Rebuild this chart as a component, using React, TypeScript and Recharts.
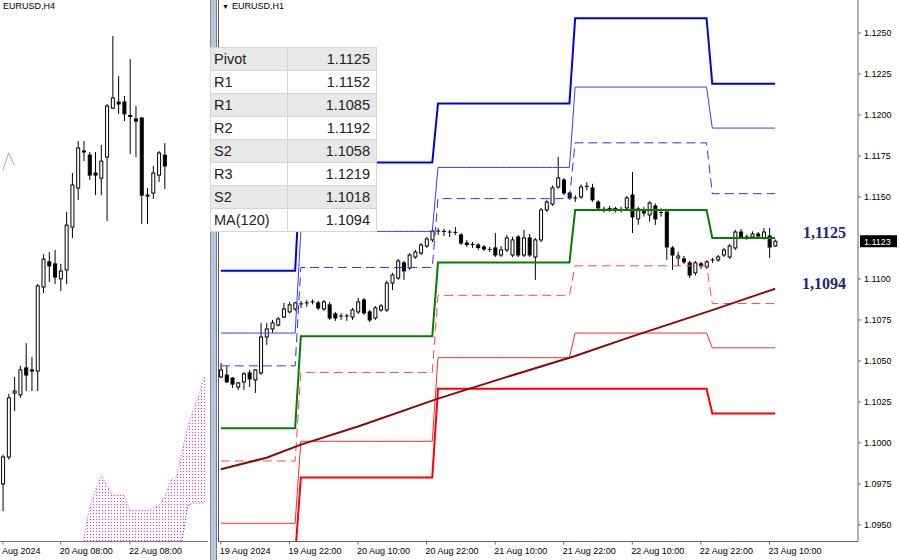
import React from "react";
import { ComposedChart, Line, Bar, Area, XAxis, YAxis, ReferenceLine } from "recharts";

type OHLC = [number, number, number, number];

// EURUSD H1: open, high, low, close, one candle per hour from 19 Aug 10:00 to 23 Aug 11:00
const h1Candles: OHLC[] = [
  [1.10402, 1.10488, 1.10396, 1.10445], [1.10414, 1.10469, 1.10366, 1.10372], [1.10396, 1.10402, 1.10335, 1.10359],
  [1.10341, 1.10372, 1.10323, 1.10366], [1.10372, 1.10433, 1.10323, 1.10421], [1.10427, 1.10445, 1.10341, 1.1039],
  [1.10384, 1.10451, 1.10305, 1.10445], [1.10427, 1.10732, 1.10415, 1.10646], [1.10646, 1.10732, 1.10597, 1.10695],
  [1.10695, 1.1075, 1.10671, 1.10732], [1.10719, 1.10768, 1.1071, 1.10756], [1.10768, 1.10854, 1.1076, 1.10817],
  [1.10799, 1.1086, 1.1079, 1.10842], [1.10817, 1.1086, 1.10805, 1.10854], [1.10848, 1.10866, 1.10823, 1.10842],
  [1.1085, 1.10872, 1.1083, 1.10854], [1.10856, 1.10875, 1.10845, 1.1086], [1.10854, 1.10866, 1.10811, 1.10823],
  [1.10817, 1.10872, 1.10805, 1.1086], [1.10842, 1.1086, 1.1075, 1.10762], [1.10787, 1.10799, 1.10744, 1.10762],
  [1.10768, 1.1079, 1.1075, 1.10774], [1.10774, 1.10787, 1.10744, 1.10768], [1.10768, 1.10823, 1.1075, 1.10811],
  [1.10799, 1.10884, 1.10787, 1.1086], [1.10872, 1.10884, 1.1078, 1.10793], [1.10799, 1.10811, 1.10738, 1.1075],
  [1.10762, 1.10835, 1.1075, 1.10823], [1.10811, 1.10848, 1.10799, 1.10835], [1.10811, 1.1099, 1.10799, 1.10975],
  [1.10975, 1.11037, 1.10932, 1.11024], [1.11006, 1.11122, 1.10994, 1.1111], [1.11098, 1.1111, 1.10994, 1.11049],
  [1.11067, 1.11158, 1.11055, 1.11146], [1.11134, 1.11177, 1.11122, 1.11164], [1.11158, 1.11219, 1.11146, 1.11207],
  [1.11201, 1.11256, 1.11189, 1.11244], [1.11238, 1.11311, 1.11225, 1.11292], [1.11292, 1.11311, 1.11268, 1.11286],
  [1.11286, 1.11305, 1.11262, 1.1129], [1.11286, 1.11299, 1.11256, 1.1128], [1.1128, 1.11317, 1.11268, 1.11284],
  [1.11268, 1.1128, 1.11207, 1.11219], [1.11219, 1.11238, 1.11195, 1.1121], [1.1121, 1.11225, 1.11189, 1.11207],
  [1.11207, 1.11219, 1.11177, 1.11192], [1.11195, 1.11207, 1.1117, 1.11183], [1.1118, 1.11195, 1.11164, 1.11177],
  [1.11189, 1.1128, 1.11134, 1.11146], [1.11146, 1.112, 1.11134, 1.11177], [1.11177, 1.11268, 1.11164, 1.1125],
  [1.11146, 1.11256, 1.11134, 1.11238], [1.11256, 1.11268, 1.11134, 1.11146], [1.11146, 1.11299, 1.11134, 1.1125],
  [1.1125, 1.11274, 1.11134, 1.11146], [1.11134, 1.1125, 1.10994, 1.11238], [1.11238, 1.11433, 1.11225, 1.11421],
  [1.11421, 1.11482, 1.11408, 1.11469], [1.11457, 1.1157, 1.11445, 1.11555], [1.11561, 1.11744, 1.11549, 1.11616],
  [1.11603, 1.11616, 1.11512, 1.11524], [1.11524, 1.1153, 1.11482, 1.11494], [1.11494, 1.1151, 1.1147, 1.1149],
  [1.115, 1.11576, 1.11488, 1.11561], [1.11561, 1.1159, 1.1154, 1.11565], [1.11555, 1.1158, 1.1147, 1.11482],
  [1.11469, 1.11482, 1.11421, 1.11433], [1.11425, 1.1144, 1.11405, 1.11421], [1.11421, 1.11445, 1.1141, 1.1143],
  [1.1143, 1.1144, 1.11405, 1.11421], [1.11421, 1.1144, 1.11405, 1.11418], [1.11433, 1.11506, 1.11421, 1.11494],
  [1.11512, 1.11652, 1.1128, 1.11378], [1.11366, 1.1144, 1.1133, 1.11427], [1.11421, 1.1144, 1.1138, 1.11402],
  [1.1139, 1.11475, 1.1135, 1.11463], [1.11445, 1.1146, 1.1133, 1.11366], [1.114, 1.1143, 1.1138, 1.11405],
  [1.11408, 1.1142, 1.11116, 1.11195], [1.11189, 1.11201, 1.11055, 1.11146], [1.11128, 1.11165, 1.1108, 1.1114],
  [1.11122, 1.1114, 1.1109, 1.11104], [1.11098, 1.1111, 1.11006, 1.11024], [1.11037, 1.1111, 1.1102, 1.11098],
  [1.11092, 1.11104, 1.1106, 1.1108], [1.11073, 1.11116, 1.1106, 1.11104], [1.1111, 1.11128, 1.11098, 1.11116],
  [1.11116, 1.11146, 1.11104, 1.11134], [1.11146, 1.1119, 1.11134, 1.11177], [1.11134, 1.11213, 1.11122, 1.11201],
  [1.11189, 1.11299, 1.11177, 1.11286], [1.11286, 1.11305, 1.11244, 1.11256], [1.11256, 1.1127, 1.11238, 1.1125],
  [1.11256, 1.1129, 1.11244, 1.11274], [1.11274, 1.11286, 1.1125, 1.11262], [1.1125, 1.11311, 1.1124, 1.11286],
  [1.11262, 1.11311, 1.11128, 1.11195], [1.11201, 1.1124, 1.11195, 1.1123],
];

// bar index where each trading day starts (19..23 Aug)
const dayStartBar = [0, 14, 38, 62, 86];

// daily pivot levels
const levelR3 = [1.1105, 1.1171, 1.1207, 1.1259, 1.1219];
const levelR2 = [1.1067, 1.1129, 1.1168, 1.1217, 1.1192];
const levelR1 = [1.1047, 1.1107, 1.1149, 1.1183, 1.1152];
const levelP = [1.1009, 1.1065, 1.111, 1.1142, 1.1125];
const levelS1 = [1.0989, 1.1043, 1.109, 1.1108, 1.1085];
const levelS2 = [1.0951, 1.1001, 1.1052, 1.1067, 1.1058];
const levelS3 = [1.0931, 1.0979, 1.1033, 1.1033, 1.1018];

// MA(120) read at a few bars
const maBars = [0, 8, 14, 24, 38, 48, 62, 72, 86, 97];
const maValues = [1.0984, 1.0991, 1.0999, 1.101, 1.1027, 1.1038, 1.1053, 1.1065, 1.1081, 1.1094];

const h1Slots = 112;
const h1TickBars = [0, 12, 24, 36, 48, 60, 72, 84, 96];
const h1TickLabels = ["19 Aug 2024", "19 Aug 22:00", "20 Aug 10:00", "20 Aug 22:00", "21 Aug 10:00", "21 Aug 22:00", "22 Aug 10:00", "22 Aug 22:00", "23 Aug 10:00"];
const priceTicks = [1.095, 1.0975, 1.1, 1.1025, 1.105, 1.1075, 1.11, 1.115, 1.1175, 1.12, 1.1225, 1.125];

// EURUSD H4 candles (left pane)
const h4Candles: OHLC[] = [
  [1.09975, 1.1009, 1.09868, 1.10081], [1.10081, 1.1033, 1.1007, 1.10314], [1.10333, 1.10396, 1.10262, 1.10341],
  [1.10326, 1.1044, 1.10314, 1.10424], [1.10432, 1.1053, 1.10341, 1.10404], [1.1042, 1.10475, 1.10341, 1.10424],
  [1.1042, 1.10763, 1.10341, 1.10755], [1.10751, 1.1088, 1.10727, 1.10861], [1.1085, 1.10889, 1.10771, 1.10834],
  [1.10842, 1.10897, 1.10763, 1.1079], [1.10783, 1.10842, 1.10735, 1.10814], [1.10818, 1.11047, 1.10763, 1.10995],
  [1.10987, 1.112, 1.10944, 1.11153], [1.11141, 1.11326, 1.11094, 1.11299], [1.11283, 1.11326, 1.11247, 1.11287],
  [1.11271, 1.11283, 1.11172, 1.11192], [1.112, 1.11283, 1.11113, 1.11192], [1.1118, 1.11311, 1.11113, 1.11247],
  [1.11263, 1.11472, 1.11011, 1.11464], [1.11456, 1.1174, 1.11452, 1.11496], [1.1148, 1.11582, 1.11433, 1.11472],
  [1.1148, 1.11504, 1.11405, 1.11433], [1.11427, 1.11649, 1.11275, 1.11423], [1.11413, 1.11464, 1.11263, 1.11405],
  [1.11417, 1.1142, 1.10999, 1.11113], [1.11109, 1.11141, 1.10999, 1.11113], [1.11121, 1.11228, 1.11098, 1.112],
  [1.11192, 1.11287, 1.11165, 1.11279], [1.11271, 1.11318, 1.11137, 1.11228],
];
const h4Slots = 36;
const h4TickBars = [0, 10, 22];
const h4TickLabels = ["Aug 2024", "20 Aug 08:00", "22 Aug 08:00"];
// ichimoku cloud edges from slot 14 on
const cloudStart = 14;
const cloudUpper = [1.0976, 1.0988, 1.0995, 1.1001, 1.0997, 1.0993, 1.0993, 1.0993, 1.0987, 1.0987, 1.0987, 1.0987, 1.0988, 1.0989, 1.0992, 1.0999, 1.1, 1.101, 1.102, 1.1027, 1.1033, 1.104];
const cloudLower = [1.0962, 1.0962, 1.0962, 1.0962, 1.0962, 1.0962, 1.0962, 1.0962, 1.0962, 1.0962, 1.0962, 1.0962, 1.0962, 1.0962, 1.0962, 1.0962, 1.0962, 1.0975, 1.0989, 1.099, 1.099, 1.099];
const h4Zig = [1.1121, 1.1128, 1.1123];

const tableLabels = ["Pivot", "R1", "R1", "R2", "S2", "R3", "S2", "MA(120)"];
const tableValues = ["1.1125", "1.1152", "1.1085", "1.1192", "1.1058", "1.1219", "1.1018", "1.1094"];

const FONT = '"Liberation Sans", Arial, sans-serif';

const h1Data = Array.from({ length: h1Slots }, (_, i) => {
  const row: any = { i };
  const k = h1Candles[i];
  if (k) {
    let day = 0;
    dayStartBar.forEach((b, d) => { if (i >= b) day = d; });
    row.o = k[0]; row.h = k[1]; row.l = k[2]; row.c = k[3];
    row.range = [k[2], k[1]];
    row.r3 = levelR3[day]; row.r2 = levelR2[day]; row.r1 = levelR1[day];
    row.p = levelP[day];
    row.s1 = levelS1[day]; row.s2 = levelS2[day]; row.s3 = levelS3[day];
  }
  const m = maBars.indexOf(i);
  if (m >= 0) row.ma = maValues[m];
  return row;
});

const h4Data = Array.from({ length: h4Slots }, (_, i) => {
  const row: any = { i };
  const k = h4Candles[i];
  if (k) {
    row.o = k[0]; row.h = k[1]; row.l = k[2]; row.c = k[3];
    row.range = [k[2], k[1]];
  }
  const j = i - cloudStart;
  if (j >= 0 && j < cloudUpper.length) {
    row.spanA = cloudUpper[j];
    row.spanB = cloudLower[j];
    row.cloud = [cloudLower[j], cloudUpper[j]];
  }
  if (i < h4Zig.length) row.zig = h4Zig[i];
  return row;
});

const lastClose = h1Candles[h1Candles.length - 1][3];
const tickMap = (bars: number[], labels: string[]) => {
  const m: Record<number, string> = {};
  bars.forEach((b, k) => { m[b] = labels[k]; });
  return m;
};

const Candle = (props: any) => {
  const { x, y, width, height, payload } = props;
  if (!payload || payload.o == null || ![x, y, width, height].every(Number.isFinite)) return <g />;
  const { o, h, l, c } = payload;
  const top = Math.min(y, y + height);
  const span = Math.abs(height);
  const k = h > l ? span / (h - l) : 0;
  const cx = x + width / 2;
  const yo = top + (h - o) * k;
  const yc = top + (h - c) * k;
  const bTop = Math.min(yo, yc);
  const bH = Math.abs(yo - yc);
  return (
    <g>
      <line x1={cx} x2={cx} y1={top} y2={top + span} stroke="#000" strokeWidth={1} />
      {bH < 1 ? (
        <line x1={cx - 2} x2={cx + 2} y1={bTop} y2={bTop} stroke="#000" strokeWidth={1} />
      ) : (
        <rect x={cx - 1.5} y={bTop} width={3} height={bH} fill={c >= o ? "#fff" : "#000"} stroke="#000" strokeWidth={1} />
      )}
    </g>
  );
};

const TimeTick = (props: any) => {
  const { x, y, payload, labels } = props;
  const text = labels[payload.value];
  if (!text) return <g />;
  return (
    <text x={x - 1} y={y + 7} fontSize={9} fontFamily={FONT} fill="#000">
      {text}
    </text>
  );
};

const LevelTag = (props: any) => {
  const { viewBox, text } = props;
  return (
    <text x={viewBox.x + viewBox.width - 12} y={viewBox.y} textAnchor="end" fontSize={16} fontWeight="bold"
      fontFamily='"Liberation Serif", "Times New Roman", serif' fill="#23237a">
      {text}
    </text>
  );
};

const PriceTag = (props: any) => {
  const { viewBox, text } = props;
  const x = viewBox.x + viewBox.width + 2;
  return (
    <g>
      <rect x={x} y={viewBox.y - 6} width={37} height={12} fill="#000" />
      <text x={x + 4} y={viewBox.y + 3.5} fontSize={9} fontFamily={FONT} fill="#fff">{text}</text>
    </g>
  );
};

const fmtComma = (v: number) => v.toFixed(4).replace(".", ",");

export default function App() {
  return (
    <div style={{ position: "fixed", left: 0, top: 0, width: 900, height: 560, background: "#fff", overflow: "hidden" }}>
      <div style={{ position: "absolute", left: 0, top: 0 }}>
        <ComposedChart width={208} height={560} data={h4Data} margin={{ top: 0, right: 0, bottom: 0, left: 0 }}>
          <defs>
            <pattern id="ichiDots" width="3" height="3" patternUnits="userSpaceOnUse">
              <rect x="0" y="0" width="1" height="1" fill="#ff22ff" />
            </pattern>
          </defs>
          <XAxis dataKey="i" ticks={h4TickBars} interval={0} height={18.5} tickSize={3}
            axisLine={{ stroke: "#777" }} tickLine={{ stroke: "#777" }} tick={<TimeTick labels={tickMap(h4TickBars, h4TickLabels)} />} />
          <YAxis hide type="number" domain={[1.09748, 1.11882]} allowDataOverflow />
          <Area dataKey={(d: any) => d.cloud} stroke="none" fill="url(#ichiDots)" fillOpacity={1} isAnimationActive={false} />
          <Line dataKey="spanA" stroke="#ff33ff" strokeDasharray="1 2" dot={false} activeDot={false} isAnimationActive={false} />
          <Line dataKey="spanB" stroke="#2a2aff" strokeDasharray="1 2" dot={false} activeDot={false} isAnimationActive={false} />
          <Line dataKey="zig" stroke="#a3acba" dot={false} activeDot={false} isAnimationActive={false} />
          <Bar dataKey={(d: any) => d.range} shape={(p: any) => <Candle {...p} />} isAnimationActive={false} />
        </ComposedChart>
      </div>

      <div style={{ position: "absolute", left: 210, top: 0, width: 5, height: 560, background: "#b7c7da", borderLeft: "1px solid #8c8c8c", borderRight: "1px solid #6f8196" }} />

      <div style={{ position: "absolute", left: 217, top: 0 }}>
        <ComposedChart width={683} height={560} data={h1Data} margin={{ top: 0, right: 0, bottom: 0, left: 1 }}>
          <XAxis dataKey="i" ticks={h1TickBars} interval={0} height={18.5} tickSize={3}
            axisLine={{ stroke: "#666" }} tickLine={{ stroke: "#666" }} tick={<TimeTick labels={tickMap(h1TickBars, h1TickLabels)} />} />
          <YAxis orientation="right" type="number" width={42} domain={[1.09399, 1.12701]} allowDataOverflow ticks={priceTicks}
            tickFormatter={(v: number) => v.toFixed(4)} tick={{ fontSize: 9, fill: "#000", fontFamily: FONT }}
            tickSize={3} tickMargin={3} axisLine={{ stroke: "#666" }} tickLine={{ stroke: "#666" }} />
          <Line dataKey="s3" stroke="#ff0000" strokeWidth={2} dot={false} activeDot={false} isAnimationActive={false} />
          <Line dataKey="s2" stroke="#ff2a2a" strokeWidth={1} dot={false} activeDot={false} isAnimationActive={false} />
          <Line dataKey="s1" stroke="#ff4a4a" strokeWidth={1} strokeDasharray="9 5" dot={false} activeDot={false} isAnimationActive={false} />
          <Line dataKey="p" stroke="#008000" strokeWidth={2} dot={false} activeDot={false} isAnimationActive={false} />
          <Line dataKey="r1" stroke="#2f2fff" strokeWidth={1} strokeDasharray="9 5" dot={false} activeDot={false} isAnimationActive={false} />
          <Line dataKey="r2" stroke="#3a3aff" strokeWidth={1} dot={false} activeDot={false} isAnimationActive={false} />
          <Line dataKey="r3" stroke="#0000f0" strokeWidth={2} dot={false} activeDot={false} isAnimationActive={false} />
          <Line dataKey="ma" stroke="#8b0a0a" strokeWidth={2} connectNulls dot={false} activeDot={false} isAnimationActive={false} />
          <Bar dataKey={(d: any) => d.range} shape={(p: any) => <Candle {...p} />} isAnimationActive={false} />
          <ReferenceLine y={levelP[levelP.length - 1]} stroke="none" label={<LevelTag text={fmtComma(levelP[levelP.length - 1])} />} />
          <ReferenceLine y={maValues[maValues.length - 1]} stroke="none" label={<LevelTag text={fmtComma(maValues[maValues.length - 1])} />} />
          <ReferenceLine y={lastClose} stroke="none" label={<PriceTag text={lastClose.toFixed(4)} />} />
        </ComposedChart>
      </div>

      <div style={{ position: "absolute", left: 218, top: 0, width: 1, height: 542, background: "#555" }} />

      <table style={{ position: "absolute", left: 210, top: 47, borderCollapse: "collapse", fontFamily: FONT, fontSize: 14.5, color: "#222" }}>
        <tbody>
          {tableLabels.map((lab, k) => (
            <tr key={k} style={{ height: 23, background: k % 2 === 0 ? "#e8e8e8" : "#fff" }}>
              <td style={{ width: 73, padding: "0 0 0 3px", border: "1px solid #d6d6d6", lineHeight: "21px" }}>{lab}</td>
              <td style={{ width: 82, padding: "0 6px 0 0", border: "1px solid #d6d6d6", textAlign: "right", lineHeight: "21px" }}>{tableValues[k]}</td>
            </tr>
          ))}
        </tbody>
      </table>

      <div style={{ position: "absolute", left: 3, top: 1, fontFamily: FONT, fontSize: 9, color: "#000" }}>EURUSD,H4</div>
      <div style={{ position: "absolute", left: 222, top: 1, fontFamily: FONT, fontSize: 9, color: "#000" }}>
        <span style={{ fontSize: 7, marginRight: 3 }}>▼</span>EURUSD,H1
      </div>
    </div>
  );
}
